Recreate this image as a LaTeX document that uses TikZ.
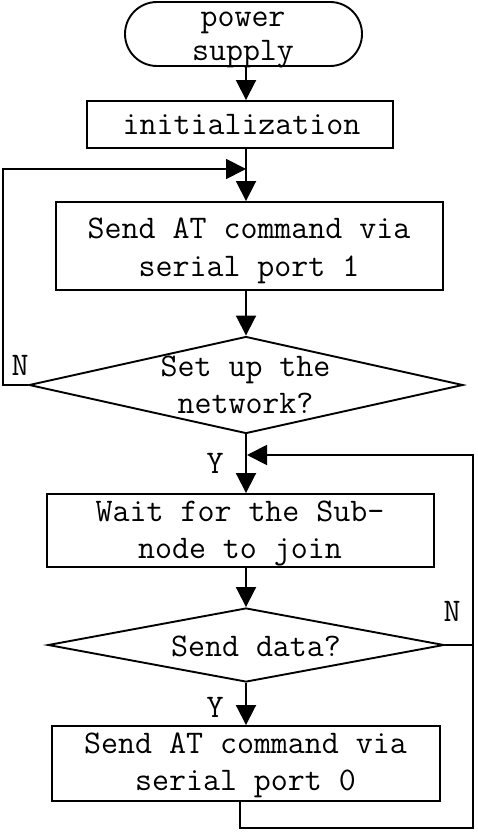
\documentclass[tikz,border=0pt]{standalone}
\usetikzlibrary{arrows.meta,shapes.geometric}
\begin{document}
\begin{tikzpicture}[x=1pt,y=-1pt,
  line width=1.9pt,
  box/.style={draw, rectangle, inner sep=0pt},
  dia/.style={draw, diamond, inner sep=0pt},
  txt/.style={font=\fontsize{33}{37}\selectfont\ttfamily, align=center, inner sep=0pt, anchor=base},
  arr/.style={-{Triangle[length=20pt,width=20pt]}},
]
\useasboundingbox[fill=white] (0,0) rectangle (478,834);

% shapes
\node[box, rounded corners=32pt, minimum width=237pt, minimum height=64pt] (ps) at (243.5,34) {};
\node[box, minimum width=306pt, minimum height=47pt] (init) at (240,124.5) {};
\node[box, minimum width=387pt, minimum height=88pt] (s1) at (249.5,246) {};
\node[dia, minimum width=434pt, minimum height=97pt] (d1) at (246,385) {};
\node[box, minimum width=387pt, minimum height=73pt] (wait) at (240.5,530.5) {};
\node[dia, minimum width=396pt, minimum height=74pt] (d2) at (246,645) {};
\node[box, minimum width=388pt, minimum height=75pt] (s0) at (246,763.5) {};

% texts (base = baseline of the last line)
\node[txt] (pst) at (243,61) {power\\[-3pt]supply};
\node[txt] (initt) at (241.5,135) {initialization};
\node[txt] (s1t) at (249,276) {Send AT command via\\[1pt]serial port 1};
\node[txt] (d1t) at (245.5,413) {Set up the\\network?};
\node[txt] (waitt) at (240,558) {Wait for the Sub-\\node to join};
\node[txt] (d2t) at (256,656) {Send data?};
\node[txt] (s0t) at (245.5,790) {Send AT command via\\serial port 0};

% labels
\node[txt] (n1) at (20,375) {N};
\node[txt] (y1) at (215,473) {Y};
\node[txt] (n2) at (452,621) {N};
\node[txt] (y2) at (215,717) {Y};

% helper coordinates
\coordinate (ax) at (246,0);
\coordinate (lft) at (3,0);
\coordinate (rt) at (473,0);
\coordinate (bx) at (240,0);
\coordinate (bt) at (0,828);
\coordinate (j1) at (246,169);
\coordinate (j2) at (247,455);

% connectors
\draw[arr] (ps.south -| ax) -- (init.north -| ax);
\draw[arr] (init.south -| ax) -- (s1.north -| ax);
\draw[arr] (s1.south -| ax) -- (d1.north);
\draw[arr] (d1.west) -- (d1.west -| lft) |- (j1);
\draw[arr] (d1.south) -- (wait.north -| ax);
\draw[arr] (wait.south -| ax) -- (d2.north);
\draw[arr] (d2.south) -- (s0.north -| ax);
\draw (d2.east) -- (d2.east -| rt);
\draw[arr] (s0.south -| bx) |- (bt -| rt) -- (j2 -| rt) -- (j2);
\end{tikzpicture}
\end{document}
